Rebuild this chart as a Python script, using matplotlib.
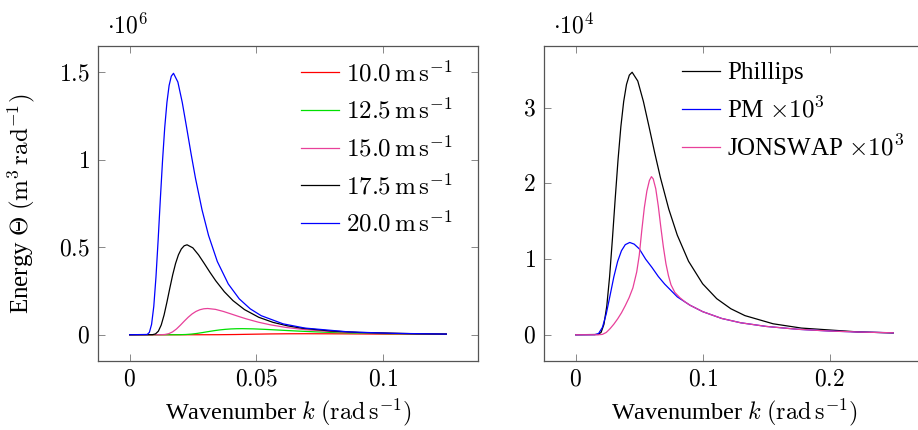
import matplotlib
matplotlib.use("Agg")
import matplotlib.pyplot as plt

plt.rcParams['font.family'] = ['Liberation Serif', 'DejaVu Serif']
plt.rcParams['mathtext.fontset'] = 'cm'

# ---- left panel: energy (x 1e6) vs wavenumber for several wind speeds ----
k_10 = [0.0, 0.02776, 0.0347, 0.04164, 0.04858, 0.05552, 0.06246, 0.0694,
        0.08328, 0.09716, 0.1041, 0.11451, 0.125]
e_10 = [0.0, 0.00001, 0.00023, 0.00129, 0.00304, 0.00464, 0.00558, 0.00585,
        0.0052, 0.00406, 0.00351, 0.0028, 0.00222]

k_125 = [0.0, 0.01776, 0.01998, 0.0222, 0.02442, 0.02664, 0.02886, 0.03108,
         0.0333, 0.03552, 0.03774, 0.03996, 0.04218, 0.0444, 0.04884, 0.05328,
         0.05772, 0.06216, 0.0666, 0.07326, 0.07992, 0.0888, 0.0999, 0.111,
         0.1221, 0.125]
e_125 = [0.0, 0.00004, 0.0003, 0.0014, 0.0038, 0.0077, 0.0127, 0.0181,
         0.0232, 0.0276, 0.0309, 0.0332, 0.0344, 0.0348, 0.0336, 0.0309,
         0.0276, 0.0241, 0.0209, 0.0166, 0.0132, 0.0097, 0.0068, 0.0048,
         0.0035, 0.0032]

k_15 = [0.0, 0.01232, 0.01386, 0.0154, 0.01694, 0.01848, 0.02002, 0.02156,
        0.0231, 0.02464, 0.02618, 0.02772, 0.02926, 0.0308, 0.03388, 0.03696,
        0.04004, 0.04312, 0.0462, 0.05082, 0.05544, 0.0616, 0.0693, 0.077,
        0.0847, 0.0924, 0.1078, 0.1232, 0.125]
e_15 = [0.0, 0.00016, 0.00139, 0.00596, 0.0163, 0.0331, 0.0546, 0.0779,
        0.1, 0.1189, 0.1333, 0.143, 0.1484, 0.15, 0.145, 0.1333,
        0.1188, 0.104, 0.09, 0.0717, 0.057, 0.042, 0.0291, 0.0206,
        0.0149, 0.011, 0.0063, 0.0038, 0.0036]

k_175 = [0.0, 0.00906, 0.01019, 0.01133, 0.01246, 0.01359, 0.01472, 0.01586,
         0.01699, 0.01812, 0.01925, 0.02039, 0.02152, 0.02265, 0.02492, 0.02718,
         0.02945, 0.03171, 0.03398, 0.03737, 0.04077, 0.0453, 0.05096, 0.05663,
         0.06229, 0.06795, 0.07928, 0.0906, 0.11325, 0.125]
e_175 = [0.0, 0.00055, 0.00475, 0.0204, 0.0558, 0.1133, 0.1872, 0.2669,
         0.3427, 0.4074, 0.4567, 0.4901, 0.5084, 0.514, 0.4968, 0.4567,
         0.4072, 0.3564, 0.3084, 0.2458, 0.1952, 0.144, 0.0998, 0.0706,
         0.051, 0.0375, 0.0215, 0.0131, 0.0056, 0.0038]

k_20 = [0.0, 0.00692, 0.00779, 0.00865, 0.00952, 0.01038, 0.01125, 0.01211,
        0.01298, 0.01384, 0.01471, 0.01557, 0.01644, 0.0173, 0.01903, 0.02076,
        0.02249, 0.02422, 0.02595, 0.02855, 0.03114, 0.0346, 0.03893, 0.04325,
        0.04758, 0.0519, 0.06055, 0.0692, 0.0865, 0.1038, 0.125]
e_20 = [0.0, 0.0016, 0.0138, 0.0593, 0.1622, 0.3293, 0.5441, 0.7758,
        0.9962, 1.1843, 1.3276, 1.4245, 1.4777, 1.494, 1.444, 1.3276,
        1.1835, 1.0358, 0.8964, 0.7146, 0.5673, 0.4185, 0.2901, 0.2053,
        0.1482, 0.1091, 0.0624, 0.0381, 0.0163, 0.0081, 0.0039]

wind_labels = [r'$10.0\,\mathrm{m\,s^{-1}}$', r'$12.5\,\mathrm{m\,s^{-1}}$',
               r'$15.0\,\mathrm{m\,s^{-1}}$', r'$17.5\,\mathrm{m\,s^{-1}}$',
               r'$20.0\,\mathrm{m\,s^{-1}}$']

# ---- right panel: spectra comparison (x 1e4) ----
k_phil = [0.0, 0.01776, 0.01998, 0.0222, 0.02442, 0.02664, 0.02886, 0.03108,
          0.0333, 0.03552, 0.03774, 0.03996, 0.04218, 0.0444, 0.04884, 0.05328,
          0.05772, 0.06216, 0.0666, 0.07326, 0.07992, 0.0888, 0.0999, 0.111,
          0.1221, 0.1332, 0.1554, 0.1776, 0.222, 0.25]
e_phil = [0.0, 0.0037, 0.032, 0.138, 0.377, 0.765, 1.264, 1.802,
          2.314, 2.751, 3.083, 3.309, 3.432, 3.47, 3.354, 3.083,
          2.749, 2.406, 2.082, 1.66, 1.318, 0.972, 0.674, 0.477,
          0.344, 0.253, 0.145, 0.0884, 0.0379, 0.024]

k_pm = [0.0, 0.015, 0.018, 0.021, 0.024, 0.027, 0.03, 0.033, 0.036, 0.039,
        0.0425, 0.046, 0.05, 0.055, 0.06, 0.065, 0.07, 0.08, 0.09, 0.1,
        0.115, 0.13, 0.15, 0.175, 0.2, 0.225, 0.25]
e_pm = [0.0, 0.0007, 0.0168, 0.097, 0.275, 0.518, 0.766, 0.97, 1.111, 1.191,
        1.22, 1.198, 1.136, 1.0, 0.89, 0.77, 0.67, 0.5, 0.39, 0.305,
        0.215, 0.158, 0.11, 0.072, 0.049, 0.035, 0.026]

k_jon = [0.0, 0.018, 0.021, 0.024, 0.027, 0.03, 0.033, 0.036, 0.039, 0.042,
         0.045, 0.048, 0.05, 0.052, 0.054, 0.056, 0.058, 0.0596, 0.061, 0.063,
         0.065, 0.067, 0.069, 0.071, 0.073, 0.075, 0.078, 0.082, 0.086, 0.09,
         0.1, 0.115, 0.13, 0.15, 0.175, 0.2, 0.225, 0.25]
e_jon = [0.0, 0.0, 0.005, 0.03, 0.08, 0.14, 0.21, 0.29, 0.385, 0.49,
         0.62, 0.83, 1.05, 1.38, 1.68, 1.9, 2.04, 2.09, 2.06, 1.93,
         1.7, 1.42, 1.16, 0.94, 0.78, 0.66, 0.56, 0.49, 0.435, 0.39,
         0.305, 0.215, 0.158, 0.11, 0.072, 0.049, 0.035, 0.026]

spec_labels = ['Phillips', r'PM $\times 10^{3}$', r'JONSWAP $\times 10^{3}$']

pink = '#e8409a'
spine_col = '#555555'
fs = 17
lw = 0.9

fig = plt.figure(figsize=(9.18, 4.30), dpi=100)
ax1 = fig.add_axes([98/918, 69/430, 380/918, 315/430])
ax2 = fig.add_axes([544/918, 69/430, 381/918, 315/430])

ax1.plot(k_10, e_10, color='red', lw=lw, label=wind_labels[0])
ax1.plot(k_125, e_125, color='#00e000', lw=lw, label=wind_labels[1])
ax1.plot(k_15, e_15, color=pink, lw=lw, label=wind_labels[2])
ax1.plot(k_175, e_175, color='black', lw=lw, label=wind_labels[3])
ax1.plot(k_20, e_20, color='blue', lw=lw, label=wind_labels[4])

ax2.plot(k_phil, e_phil, color='black', lw=lw, label=spec_labels[0])
ax2.plot(k_pm, e_pm, color='blue', lw=lw, label=spec_labels[1])
ax2.plot(k_jon, e_jon, color=pink, lw=lw, label=spec_labels[2])

ax1.set_xlim(-0.0125, 0.1375)
ax1.set_ylim(-0.15, 1.65)
ax2.set_xlim(-0.025, 0.275)
ax2.set_ylim(-0.347, 3.817)

ax1.set_xticks([0, 0.05, 0.1])
ax1.set_xticklabels(['$0$', '$0.05$', '$0.1$'])
ax1.set_yticks([0, 0.5, 1, 1.5])
ax1.set_yticklabels(['$0$', '$0.5$', '$1$', '$1.5$'])
ax2.set_xticks([0, 0.1, 0.2])
ax2.set_xticklabels(['$0$', '$0.1$', '$0.2$'])
ax2.set_yticks([0, 1, 2, 3])
ax2.set_yticklabels(['$0$', '$1$', '$2$', '$3$'])

xlab = r'Wavenumber $k$ $(\mathrm{rad\,s^{-1}})$'
for ax in (ax1, ax2):
    for sp in ax.spines.values():
        sp.set_color(spine_col)
        sp.set_linewidth(0.9)
    ax.tick_params(direction='in', top=True, right=True, length=5, width=0.7,
                   color='#888888', labelsize=fs, pad=6)
    ax.set_xlabel(xlab, fontsize=17.5)
    ax.xaxis.set_label_coords(0.5, -0.113)

ax1.set_ylabel(r'Energy $\Theta$ $(\mathrm{m^3\,rad^{-1}})$', fontsize=18)
ax1.yaxis.set_label_coords(-0.16, 0.5)

ax1.text(0.024, 1.04, r'$\cdot 10^{6}$', transform=ax1.transAxes, fontsize=fs,
         va='baseline')
ax2.text(0.024, 1.04, r'$\cdot 10^{4}$', transform=ax2.transAxes, fontsize=fs,
         va='baseline')

ax1.legend(loc='upper left', bbox_to_anchor=(0.535, 0.955), frameon=False,
           fontsize=18, handlelength=1.5, handletextpad=0.3, labelspacing=0.47,
           borderpad=0, borderaxespad=0)
ax2.legend(loc='upper left', bbox_to_anchor=(0.363, 0.95), frameon=False,
           fontsize=18, handlelength=1.5, handletextpad=0.3, labelspacing=0.5,
           borderpad=0, borderaxespad=0)

fig.savefig('out.png', dpi=100)
